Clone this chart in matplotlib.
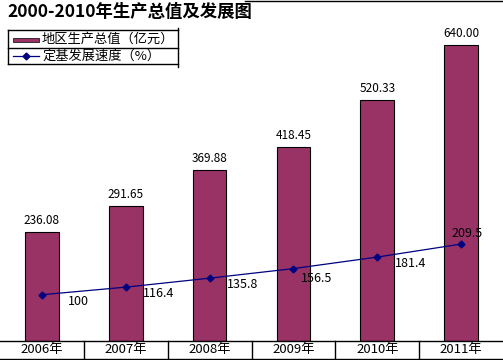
import matplotlib
matplotlib.use("Agg")
import matplotlib.pyplot as plt
from matplotlib.lines import Line2D
from matplotlib.patches import Rectangle

plt.rcParams['font.family'] = ['Noto Sans CJK SC', 'DejaVu Sans']

title = "2000-2010年生产总值及发展图"
categories = ["2006年", "2007年", "2008年", "2009年", "2010年", "2011年"]
gdp = [236.08, 291.65, 369.88, 418.45, 520.33, 640.00]
growth = [100, 116.4, 135.8, 156.5, 181.4, 209.5]
gdp_name = "地区生产总值（亿元）"
growth_name = "定基发展速度（%）"

W, H = 503, 360
fig = plt.figure(figsize=(W / 100, H / 100), dpi=100)

bottom_px = 341
ax = fig.add_axes([0, (H - bottom_px) / H, 1, bottom_px / H])
ax.set_xlim(-0.5, len(categories) - 0.5)
ax.set_ylim(0, 737)
for s in ax.spines.values():
    s.set_visible(False)
ax.set_xticks([])
ax.set_yticks([])

x = list(range(len(categories)))
bar_color = "#993366"
ax.bar(x, gdp, width=0.4, color=bar_color, edgecolor="black", linewidth=0.8, zorder=2)
for xi, v in zip(x, gdp):
    ax.annotate(f"{v:.2f}", (xi, v), xytext=(0, 5), textcoords="offset pixels",
                ha="center", va="bottom", fontsize=8.5, color="black")

ax2 = ax.twinx()
ax2.set_ylim(0, 737)
ax2.set_xlim(-0.5, len(categories) - 0.5)
for s in ax2.spines.values():
    s.set_visible(False)
ax2.set_yticks([])
ax2.plot(x, growth, color="#000080", linewidth=0.9, marker="D", markersize=3.5,
         markerfacecolor="#000080", markeredgecolor="#000080", zorder=3)
offsets = [(26, -7), (17, -6), (17, -6), (8, -10), (18, -6), (-10, 11)]
for xi, v, off in zip(x, growth, offsets):
    lbl = f"{v:g}"
    ax2.annotate(lbl, (xi, v), xytext=off, textcoords="offset pixels",
                 ha="left", va="center", fontsize=9, color="black")

def fx(px):
    return px / W

def fy(py):
    return 1 - py / H

# Category cells at the bottom
fig.add_artist(Line2D([0, 1], [fy(341), fy(341)], color="black", lw=1))
fig.add_artist(Line2D([0, 1], [fy(359), fy(359)], color="black", lw=1))
cell = W / len(categories)
for i in range(1, len(categories)):
    fig.add_artist(Line2D([fx(i * cell), fx(i * cell)], [fy(341), fy(359)], color="black", lw=1))
for i, c in enumerate(categories):
    fig.text(fx((i + 0.5) * cell), fy(350), c, ha="center", va="center", fontsize=9.5)

# Title
fig.text(fx(7), fy(12), title, ha="left", va="center", fontsize=12.5, fontweight="bold")
fig.add_artist(Line2D([fx(245), 1], [fy(0.5), fy(0.5)], color="black", lw=1))

# Legend box
lx0, lx1 = 8, 178
fig.add_artist(Line2D([fx(lx0), fx(lx1)], [fy(30), fy(30)], color="black", lw=1))
fig.add_artist(Line2D([fx(lx0), fx(lx1)], [fy(48), fy(48)], color="black", lw=1))
fig.add_artist(Line2D([fx(lx0), fx(lx1)], [fy(64), fy(64)], color="black", lw=1))
fig.add_artist(Line2D([fx(lx0), fx(lx0)], [fy(30), fy(64)], color="black", lw=1))
fig.add_artist(Line2D([fx(lx1), fx(lx1)], [fy(28), fy(67)], color="black", lw=1))
fig.add_artist(Rectangle((fx(13), fy(42)), fx(26), 4 / H, facecolor=bar_color,
                         edgecolor="black", lw=0.5, transform=fig.transFigure))
fig.text(fx(42), fy(39), gdp_name, ha="left", va="center", fontsize=9.5)
fig.add_artist(Line2D([fx(13), fx(26), fx(39)], [fy(56), fy(56), fy(56)], color="#000080", lw=0.9,
                      marker="D", markersize=3.5, markevery=[1],
                      markerfacecolor="#000080", markeredgecolor="#000080"))
fig.text(fx(42), fy(56), growth_name, ha="left", va="center", fontsize=9.5)

fig.savefig("out.png", dpi=100)
